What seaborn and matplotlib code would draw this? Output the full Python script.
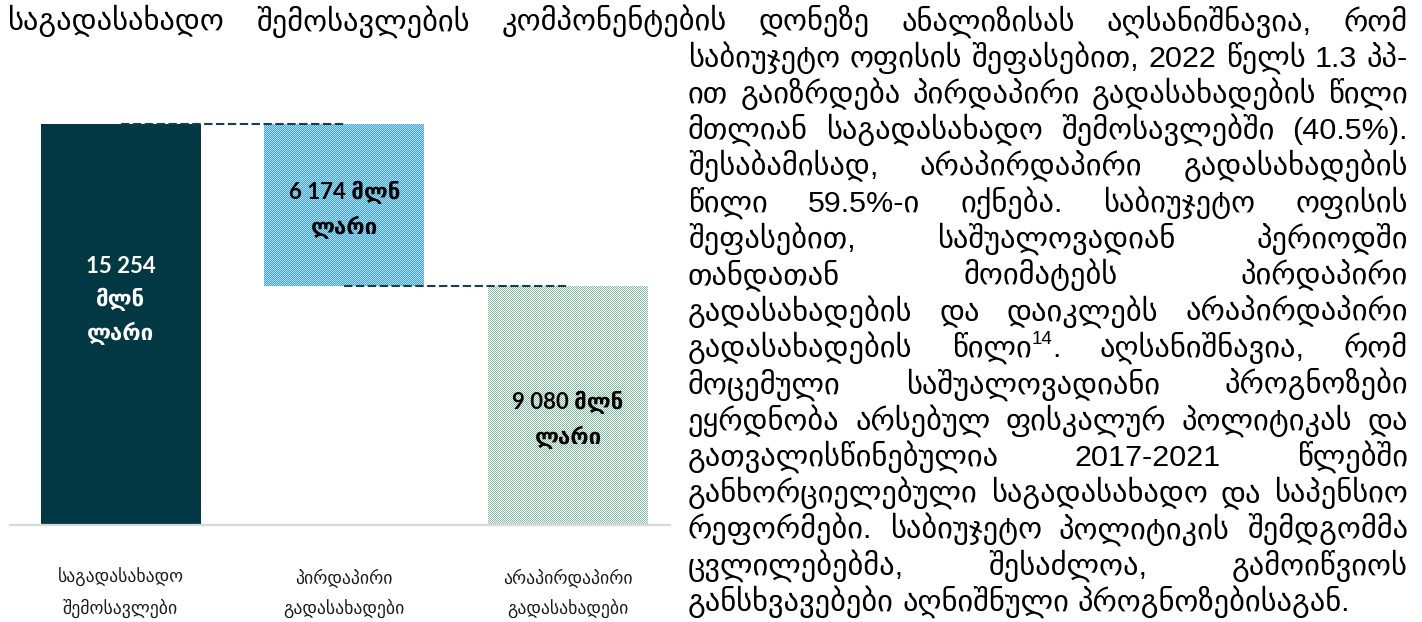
import re
import numpy as np
import matplotlib
matplotlib.use("Agg")
import matplotlib.pyplot as plt
from matplotlib.colors import to_rgba
import seaborn as sns

# ---------------- data ----------------
categories = ["საგადასახადო\nშემოსავლები", "პირდაპირი\nგადასახადები", "არაპირდაპირი\nგადასახადები"]
values = [15254, 6174, 9080]
bottoms = [0, 9080, 0]
value_labels = ["15 254\nმლნ\nლარი", "6 174 მლნ\nლარი", "9 080 მლნ\nლარი"]

para_first = "საგადასახადო შემოსავლების კომპონენტების დონეზე ანალიზისას აღსანიშნავია, რომ"
para_lines = [
    "საბიუჯეტო ოფისის შეფასებით, 2022 წელს 1.3 პპ-",
    "ით გაიზრდება პირდაპირი გადასახადების წილი",
    "მთლიან საგადასახადო შემოსავლებში (40.5%).",
    "შესაბამისად, არაპირდაპირი გადასახადების",
    "წილი 59.5%-ი იქნება. საბიუჯეტო ოფისის",
    "შეფასებით, საშუალოვადიან პერიოდში",
    "თანდათან მოიმატებს პირდაპირი",
    "გადასახადების და დაიკლებს არაპირდაპირი",
    "გადასახადების წილი^{14}. აღსანიშნავია, რომ",
    "მოცემული საშუალოვადიანი პროგნოზები",
    "ეყრდნობა არსებულ ფისკალურ პოლიტიკას და",
    "გათვალისწინებულია 2017-2021 წლებში",
    "განხორციელებული საგადასახადო და საპენსიო",
    "რეფორმები. საბიუჯეტო პოლიტიკის შემდგომმა",
    "ცვლილებებმა, შესაძლოა, გამოიწვიოს",
    "განსხვავებები აღნიშნული პროგნოზებისაგან.",
]

# ---------------- style ----------------
sns.set_theme(style="white")
plt.rcParams["font.family"] = ["DejaVu Sans"]

W, H = 1422, 622
fig = plt.figure(figsize=(W / 100, H / 100), dpi=100)
ax = fig.add_axes([10 / W, 97 / H, 660 / W, 428 / H])
ax.set_facecolor("none")

sns.barplot(x=categories, y=values, bottom=bottoms, ax=ax, width=0.715,
            color="#023744", saturation=1, errorbar=None)

ax.set_xlim(-0.494, 2.456)
ax.set_ylim(0, values[0] * 1.067)

bar_fill = ["#023744", "#3ea5d6", "#7fbd9f"]
bar_tint = [None, "#b3dcef", "#ffffff"]
renderer = fig.canvas.get_renderer()
for p, col, tint in zip(ax.patches, bar_fill, bar_tint):
    p.set_linewidth(0)
    if tint is None:
        p.set_facecolor(col)
        continue
    # fine 1-px checkerboard texture filling the bar's own pixel box
    bb = p.get_window_extent(renderer=renderer)
    x0, y0 = int(round(bb.x0)), int(round(bb.y0))
    wpx, hpx = int(round(bb.x1)) - x0, int(round(bb.y1)) - y0
    ii, jj = np.indices((hpx, wpx))
    arr = np.empty((hpx, wpx, 4), dtype=np.uint8)
    arr[:] = (np.array(to_rgba(tint)) * 255).round().astype(np.uint8)
    arr[(ii + jj) % 2 == 0] = (np.array(to_rgba(col)) * 255).round().astype(np.uint8)
    fig.figimage(arr, xo=x0, yo=y0, origin="lower", zorder=-1,
                 interpolation="nearest", resample=False)
    p.set_facecolor("none")

# connectors (center to center)
ax.hlines(values[0], 0, 1, colors="#12404c", linestyles=(0, (4, 1.7)), lw=1.5, zorder=3)
ax.hlines(bottoms[1], 1, 2, colors="#12404c", linestyles=(0, (4, 1.7)), lw=1.5, zorder=3)

# value labels
label_frac = [0.56, 0.47, 0.44]
label_col = ["white", "black", "black"]
for i, (lab, v, b) in enumerate(zip(value_labels, values, bottoms)):
    ax.text(i, b + label_frac[i] * v, lab, ha="center", va="center",
            fontsize=16, fontweight="bold", color=label_col[i],
            family=["Lato", "DejaVu Sans"], linespacing=1.6, zorder=4)

ax.set_yticks([])
ax.set_xlabel("")
ax.set_ylabel("")
for s in ["left", "top", "right"]:
    ax.spines[s].set_visible(False)
ax.spines["bottom"].set_color("#d9d9d9")
ax.spines["bottom"].set_linewidth(1.6)
ax.tick_params(axis="x", length=0, pad=31, labelsize=12.8, labelcolor="#1a1a1a")
for lbl in ax.get_xticklabels():
    lbl.set_linespacing(1.75)

# ---------------- justified paragraph ----------------
PFAM = ["Liberation Sans", "DejaVu Sans"]


def tw(s, fs):
    if not s:
        return 0.0
    t = fig.text(0, 0, s, fontsize=fs, family=PFAM)
    w = t.get_window_extent(renderer=renderer).width
    t.remove()
    return w


SUP = re.compile(r"^(.*)\^\{(.*)\}(.*)$")


def word_w(word, fs):
    m = SUP.match(word)
    if m:
        return tw(m.group(1), fs) + tw(m.group(2), fs * 0.62) + tw(m.group(3), fs)
    return tw(word, fs)


def draw_word(x, base, word, fs):
    m = SUP.match(word)
    pieces = [(m.group(1), fs, 0), (m.group(2), fs * 0.62, 0.42), (m.group(3), fs, 0)] if m else [(word, fs, 0)]
    for s, f, rise in pieces:
        if s:
            fig.text(x / W, 1 - (base - rise * fs * 1.389) / H, s, fontsize=f,
                     family=PFAM, color="black", va="baseline", ha="left")
            x += tw(s, f)


blocks = [(para_first, 7, 1408)] + [(ln, 688, 1408) for ln in para_lines]

fs0 = 19
space_w = tw("ა ა", fs0) - tw("აა", fs0)
ratios = []
for ln, l, r in blocks[:-1]:
    ws = [word_w(w, fs0) for w in ln.split(" ")]
    ratios.append((sum(ws) + space_w * (len(ws) - 1)) / (r - l))
fs = fs0 / max(ratios) * 0.99
space_w = tw("ა ა", fs) - tw("აა", fs)

for k, (ln, l, r) in enumerate(blocks):
    center = 22 + k * 36.3
    base = center + 0.27 * fs * 1.389
    words = ln.split(" ")
    ws = [word_w(w, fs) for w in words]
    last = k == len(blocks) - 1
    gap = space_w if (last or len(words) == 1) else (r - l - sum(ws)) / (len(words) - 1)
    x = l
    for w, wd in zip(words, ws):
        draw_word(x, base, w, fs)
        x += wd + gap

fig.savefig("out.png", dpi=100)
